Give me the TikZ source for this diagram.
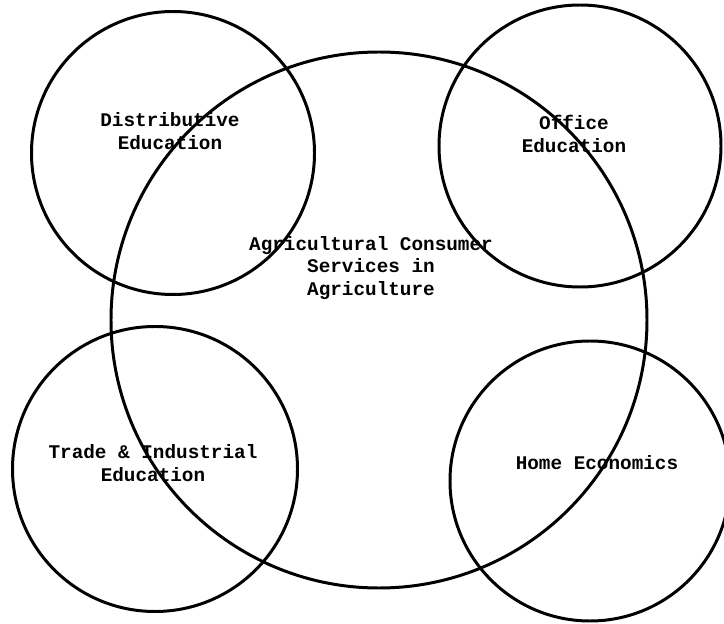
\documentclass[tikz,border=0pt]{standalone}
\usepackage{fontspec}
\setmonofont{Liberation Mono}

\begin{document}
\begin{tikzpicture}[line width=1.7pt,
  field/.style={align=center, font=\ttfamily\bfseries\fontsize{11}{13}\selectfont}]

\useasboundingbox (0,0) rectangle (14.48,12.46);

% circles
\coordinate (agr) at (7.58,6.06);
\coordinate (dist) at (3.46,9.40);
\coordinate (off) at (11.60,9.54);
\coordinate (trade) at (3.10,3.08);
\coordinate (home) at (11.80,2.84);

\draw (agr) circle (5.36);
\draw (dist) circle (2.83);
\draw (off) circle (2.82);
\draw (trade) circle (2.85);
\draw (home) circle (2.80);

% labels
\node[field] (agrtext) at (7.42,7.10) {Agricultural Consumer\\Services in\\Agriculture};
\node[field] (disttext) at (3.40,9.84) {Distributive\\Education};
\node[field] (offtext) at (11.48,9.78) {Office\\Education};
\node[field] (tradetext) at (3.06,3.20) {Trade \& Industrial\\Education};
\node[field] (hometext) at (11.94,3.20) {Home Economics};

\end{tikzpicture}
\end{document}
